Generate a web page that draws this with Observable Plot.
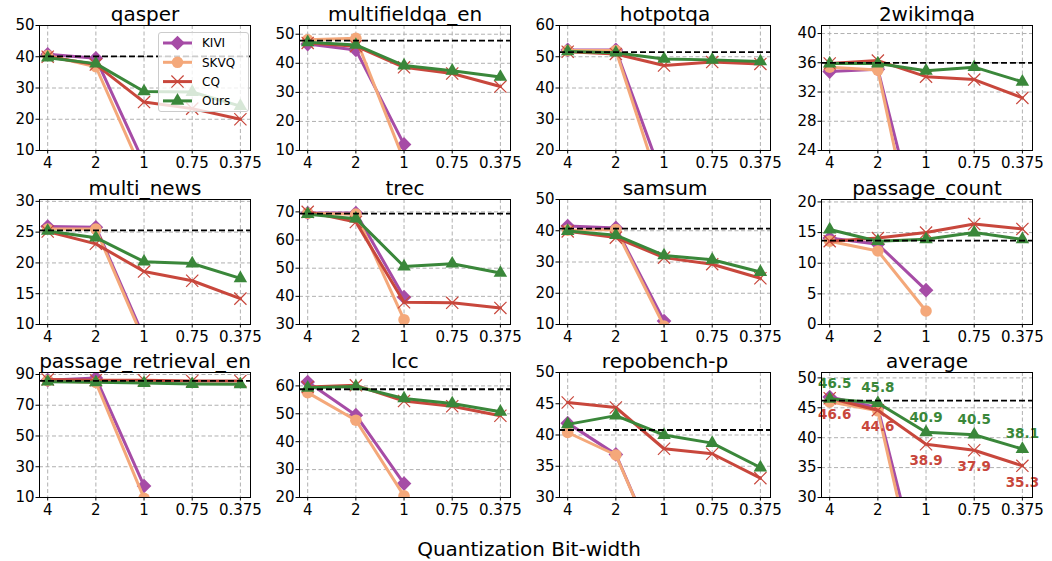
<!DOCTYPE html>
<html><head><meta charset="utf-8">
<script src="https://cdn.jsdelivr.net/npm/d3@7"></script>
<script src="https://cdn.jsdelivr.net/npm/@observablehq/plot@0.6"></script>
<style>
body{margin:0;background:#fff;font-family:"DejaVu Sans",sans-serif;}
#chart{position:relative;width:1052px;height:561px;overflow:hidden;background:#fff;}
.panel{position:absolute;}
</style></head><body><div id="chart"></div>
<script>
// ---------- data ----------
const bitLabels = ["4", "2", "1", "0.75", "0.375"];
const tasks = ["qasper", "multifieldqa_en", "hotpotqa", "2wikimqa",
               "multi_news", "trec", "samsum", "passage_count",
               "passage_retrieval_en", "lcc", "repobench-p", "average"];
const kiviScores = [
  [40.8, 39.5, 6.0], [46.6, 44.6, 12.1], [52.2, 52.2, 10.0], [34.8, 35.1, 9.0],
  [25.9, 25.8, 7.9], [69.6, 69.6, 39.7], [41.5, 40.9, 11.1], [14.1, 13.1, 5.6],
  [86.3, 87.8, 17.5], [61.4, 49.5, 25.0], [41.9, 36.9, 19.0], [46.8, 45.0, 13.0]
];
const skvqScores = [
  [40.4, 36.8, 2.0], [48.1, 48.6, 6.5], [52.0, 52.0, 4.5], [35.4, 35.0, 4.0],
  [25.5, 25.5, 7.3], [69.5, 69.2, 31.7], [40.2, 40.4, 9.5], [13.6, 12.0, 2.2],
  [86.0, 84.8, 9.5], [57.6, 47.7, 20.6], [40.4, 36.8, 19.0], [46.0, 44.5, 9.0]
];
const cqScores = [
  [40.0, 37.5, 25.5, 23.4, 20.0], [47.0, 45.9, 38.6, 36.5, 32.0],
  [51.6, 50.9, 47.2, 48.3, 47.7], [35.9, 36.3, 34.1, 33.7, 31.2],
  [25.1, 23.1, 18.6, 17.1, 14.2], [70.0, 66.4, 37.9, 37.7, 35.9],
  [39.8, 37.8, 31.4, 29.3, 24.8], [13.6, 14.1, 15.0, 16.4, 15.6],
  [86.8, 86.3, 86.3, 85.8, 85.8], [59.6, 60.2, 54.6, 52.7, 49.3],
  [45.2, 44.4, 37.8, 37.0, 33.1], [46.6, 44.6, 38.9, 37.9, 35.3]
];
const oursScores = [
  [39.7, 37.8, 28.9, 28.7, 24.2], [47.2, 46.3, 39.2, 37.4, 35.3],
  [51.7, 51.3, 49.3, 49.0, 48.5], [35.9, 35.9, 34.9, 35.4, 33.4],
  [25.2, 24.1, 20.2, 19.9, 17.5], [69.2, 67.6, 50.6, 51.6, 48.3],
  [39.9, 38.6, 32.1, 30.7, 26.8], [15.5, 13.6, 13.9, 15.0, 13.9],
  [85.3, 84.9, 84.4, 83.8, 83.6], [59.3, 59.8, 55.5, 53.7, 50.7],
  [41.7, 43.1, 40.0, 38.7, 34.8], [46.5, 45.8, 40.9, 40.5, 38.1]
];
const fullPrecision = [40.1, 47.8, 51.5, 36.0, 25.3, 69.4, 40.7, 13.7, 85.9, 58.8, 40.8, 46.2];
const yDomains = [
  [10, 50], [10, 53], [20, 60], [24, 41.1],
  [10, 30.3], [30, 74.4], [10, 50], [0, 20.4],
  [10, 91.3], [20, 64.8], [30, 50], [30, 50.9]
];
const yTicks = [
  [10, 20, 30, 40, 50], [10, 20, 30, 40, 50], [20, 30, 40, 50, 60], [24, 28, 32, 36, 40],
  [10, 15, 20, 25, 30], [30, 40, 50, 60, 70], [10, 20, 30, 40, 50], [0, 5, 10, 15, 20],
  [10, 30, 50, 70, 90], [20, 30, 40, 50, 60], [30, 35, 40, 45, 50], [30, 35, 40, 45, 50]
];
const methods = ["KIVI", "SKVQ", "CQ", "Ours"];

// ---------- style ----------
const colors = {KIVI: "#a64ca6", SKVQ: "#f4a87a", CQ: "#c8473c", Ours: "#3a873a"};
const symbols = {KIVI: "diamond2", SKVQ: "circle", CQ: "times", Ours: "triangle"};
const radii = {KIVI: 6.6, SKVQ: 5.8, CQ: 5.6, Ours: 5.0};

const colX = [39.3, 299.3, 559.3, 821.3];
const rowY = [25, 199.3, 372.3];
const FW = 211, FH = 125, ML = 40, MR = 10, MT = 25, MB = 24;
const gridStyle = {stroke: "#b0b0b0", strokeWidth: 1, strokeDasharray: "4,2.5"};

const chart = document.getElementById("chart");
const scoreSets = {KIVI: kiviScores, SKVQ: skvqScores, CQ: cqScores, Ours: oursScores};

tasks.forEach((task, k) => {
  const col = k % 4, row = Math.floor(k / 4);
  const marks = [
    Plot.ruleX([0, 1, 2, 3, 4], gridStyle),
    Plot.ruleY(yTicks[k], gridStyle)
  ];
  methods.forEach(m => {
    const rows = scoreSets[m][k].map((v, i) => ({i, v}));
    const isStroke = symbols[m] === "times";
    marks.push(Plot.line(rows, {x: "i", y: "v", stroke: colors[m], strokeWidth: 3, clip: true}));
    marks.push(Plot.dot(rows, {
      x: "i", y: "v", symbol: symbols[m], r: radii[m],
      fill: isStroke ? "none" : colors[m],
      stroke: isStroke ? colors[m] : "none",
      strokeWidth: isStroke ? 1.2 : 0, clip: true
    }));
  });
  marks.push(Plot.ruleY([fullPrecision[k]], {stroke: "black", strokeWidth: 1.8, strokeDasharray: "6,3"}));
  if (task === "average") {
    const oursRows = oursScores[k].map((v, i) => ({i, v}));
    const cqRows = cqScores[k].map((v, i) => ({i, v}));
    const lbl = {x: "i", y: "v", text: d => d.v.toFixed(1), fontWeight: "bold", fontSize: 13.5};
    // first labels nudged right to stay clear of the y tick labels
    marks.push(Plot.text(oursRows.slice(0, 1), {...lbl, dy: -15, dx: 5, fill: colors.Ours}));
    marks.push(Plot.text(oursRows.slice(1), {...lbl, dy: -15, fill: colors.Ours}));
    marks.push(Plot.text(cqRows.slice(0, 1), {...lbl, dy: 16.5, dx: 5, fill: colors.CQ}));
    marks.push(Plot.text(cqRows.slice(1), {...lbl, dy: 16.5, fill: colors.CQ}));
  }
  marks.push(Plot.frame({stroke: "black", strokeWidth: 1}));
  marks.push(Plot.text([task], {text: d => d, frameAnchor: "top", lineAnchor: "bottom", dy: -5,
    fontSize: 20, fill: "black"}));

  const svg = Plot.plot({
    width: ML + FW + MR, height: MT + FH + MB,
    marginLeft: ML, marginRight: MR, marginTop: MT, marginBottom: MB,
    style: {fontSize: "15px", fontFamily: "'DejaVu Sans', sans-serif", background: "transparent",
            overflow: "visible", color: "black"},
    x: {domain: [-0.17, 4.21], ticks: [0, 1, 2, 3, 4], tickFormat: i => bitLabels[i],
        tickSize: 3.5, tickPadding: 3, label: null},
    y: {domain: yDomains[k], ticks: yTicks[k], tickSize: 3.5, tickPadding: 1.5, label: null},
    marks
  });
  svg.classList.add("panel");
  svg.style.left = (colX[col] - ML) + "px";
  svg.style.top = (rowY[row] - MT) + "px";
  chart.appendChild(svg);
});

// ---------- legend (inside qasper panel) ----------
const legend = d3.select(chart).append("div")
  .style("position", "absolute").style("left", "158px").style("top", "32px")
  .style("width", "91px").style("height", "80px").style("box-sizing", "border-box")
  .style("background", "rgba(255,255,255,0.8)").style("border", "1px solid #cccccc")
  .style("border-radius", "3px");
const lsvg = legend.append("svg").attr("width", 91).attr("height", 80)
  .style("position", "absolute").style("left", "-1px").style("top", "-1px");
methods.forEach((m, j) => {
  const y = 11 + j * 19.3;
  lsvg.append("line").attr("x1", 5).attr("x2", 34).attr("y1", y).attr("y2", y)
    .attr("stroke", colors[m]).attr("stroke-width", 3);
  const symMap = {diamond2: d3.symbolDiamond2, circle: d3.symbolCircle, times: d3.symbolTimes, triangle: d3.symbolTriangle};
  const size = Math.PI * radii[m] * radii[m];
  const p = lsvg.append("path").attr("d", d3.symbol(symMap[symbols[m]], size)())
    .attr("transform", `translate(19.5,${y})`);
  if (symbols[m] === "times") p.attr("fill", "none").attr("stroke", colors[m]).attr("stroke-width", 1.2);
  else p.attr("fill", colors[m]);
  lsvg.append("text").attr("x", 44).attr("y", y).attr("dy", "0.36em")
    .attr("font-size", 12).attr("font-family", "'DejaVu Sans', sans-serif").text(m);
});

// ---------- shared x-axis title ----------
d3.select(chart).append("div")
  .style("position", "absolute").style("left", "329px").style("width", "400px")
  .style("top", "539px").style("text-align", "center").style("font-size", "20px")
  .style("line-height", "20px").style("font-family", "'DejaVu Sans', sans-serif")
  .text("Quantization Bit-width");
</script>
</body></html>
